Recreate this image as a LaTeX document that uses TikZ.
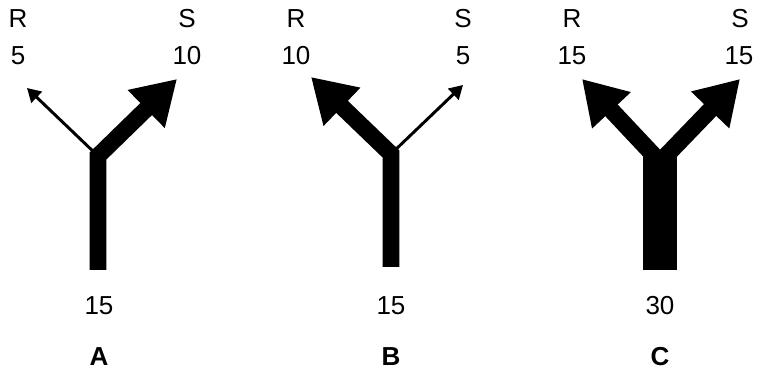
\documentclass[tikz,border=0pt]{standalone}
\usepackage{fontspec}
\setmainfont{Liberation Sans}
\usetikzlibrary{arrows.meta}

\begin{document}
\begin{tikzpicture}[
    x=0.025cm, y=-0.025cm,
    lbl/.style={inner sep=0pt, font=\fontsize{18.5}{20}\selectfont},
    tag/.style={inner sep=0pt, font=\fontsize{18.5}{20}\selectfont\bfseries},
    flowthin/.style={-{Triangle[length=9.6pt, width=10.7pt]}, line width=2.1pt},
    flowwide/.style={-{Triangle[length=30.6pt, width=35.6pt]}, line width=11.9pt, line join=miter},
    trunk/.style={line width=23.5pt}
]
    \useasboundingbox (0,0) rectangle (759,372);

    % A
    \coordinate (A-in) at (98,270);
    \coordinate (A-fork) at (98,156);
    \coordinate (A-R) at (27,88);
    \coordinate (A-S) at (177,79);
    \node [lbl] (A-Rname) at (18,19) {R};
    \node [lbl] (A-Rval) at (18,56) {5};
    \node [lbl] (A-Sname) at (187,19) {S};
    \node [lbl] (A-Sval) at (187,56) {10};
    \node [lbl] (A-total) at (99,306) {15};
    \node [tag] (A-tag) at (99,357) {A};
    \draw [flowwide] (A-in) -- (A-fork) -- (A-S);
    \draw [flowthin] (A-fork) -- (A-R);

    % B
    \coordinate (B-in) at (391,267);
    \coordinate (B-fork) at (391,154);
    \coordinate (B-R) at (311,77);
    \coordinate (B-S) at (463,85);
    \node [lbl] (B-Rname) at (296,19) {R};
    \node [lbl] (B-Rval) at (296,56) {10};
    \node [lbl] (B-Sname) at (463,19) {S};
    \node [lbl] (B-Sval) at (463,56) {5};
    \node [lbl] (B-total) at (391,306) {15};
    \node [tag] (B-tag) at (391,357) {B};
    \draw [flowwide] (B-in) -- (B-fork) -- (B-R);
    \draw [flowthin] (B-fork) -- (B-S);

    % C
    \coordinate (C-in) at (660,270);
    \coordinate (C-top) at (660,157);
    \coordinate (C-fork) at (660,162);
    \coordinate (C-R) at (582,79);
    \coordinate (C-S) at (740,79);
    \node [lbl] (C-Rname) at (572,19) {R};
    \node [lbl] (C-Rval) at (572,56) {15};
    \node [lbl] (C-Sname) at (740,19) {S};
    \node [lbl] (C-Sval) at (739,56) {15};
    \node [lbl] (C-total) at (660,306) {30};
    \node [tag] (C-tag) at (660,357) {C};
    \draw [trunk] (C-in) -- (C-top);
    \draw [flowwide, line width=12.1pt] (C-fork) -- (C-R);
    \draw [flowwide, line width=12.1pt] (C-fork) -- (C-S);
\end{tikzpicture}
\end{document}
